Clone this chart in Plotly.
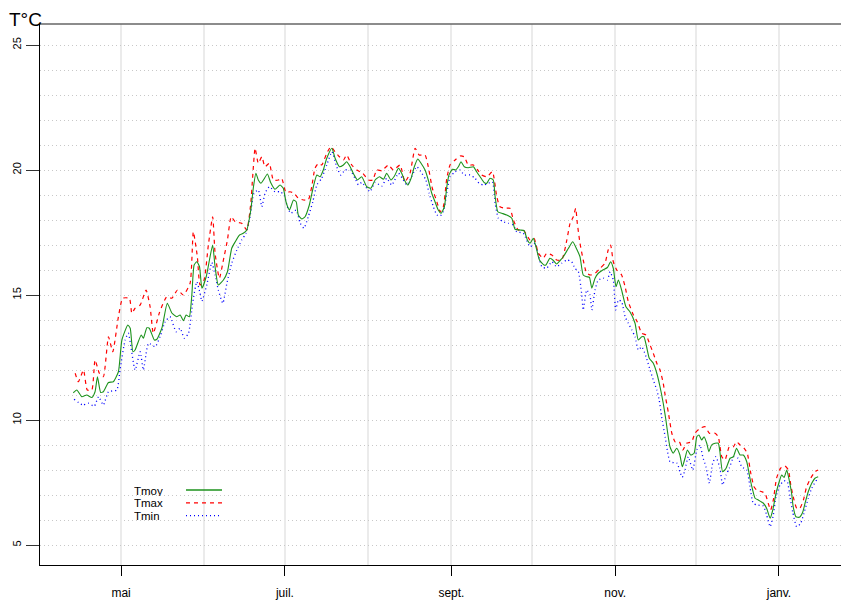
import pandas as pd
import plotly.graph_objects as go

# ---------------- data (days counted from 1 May) ----------------
START = pd.Timestamp("2022-05-01")

TMOY_DAYS = [
    -17.8, -16.5, -14.6, -12.8, -10.9, -9.7, -8.8, -7.6, -6.6, -4.7,
    -2.9, -1.0, 0.3, 2.5, 3.4, 4.4, 5.2, 7.5, 8.3, 9.6,
    10.5, 12.4, 13.3, 15.2, 17.2, 18.9, 20.7, 22.0, 23.2, 24.2,
    25.4, 26.3, 27.2, 28.2, 29.2, 30.1, 31.7, 32.9, 34.1, 35.0,
    36.2, 38.1, 39.6, 41.2, 42.5, 44.1, 45.5, 46.8, 48.3, 49.3,
    50.2, 51.1, 52.1, 53.0, 54.5, 55.7, 57.3, 59.2, 60.4, 61.4,
    62.7, 64.2, 65.2, 66.0, 67.3, 68.5, 70.1, 71.6, 72.9, 74.1,
    75.3, 76.6, 78.5, 79.7, 81.3, 82.8, 84.0, 85.3, 86.8, 88.0,
    89.6, 91.5, 93.0, 94.6, 96.2, 97.7, 98.9, 100.5, 101.8, 103.3,
    104.5, 105.5, 106.8, 108.0, 109.2, 110.5, 111.7, 113.2, 114.4, 115.7,
    116.9, 118.1, 119.2, 120.4, 121.3, 122.1, 123.4, 124.6, 125.6, 126.6,
    127.8, 129.3, 131.2, 132.4, 133.7, 135.3, 136.2, 137.4, 138.6, 139.3,
    140.3, 141.8, 143.6, 145.5, 146.7, 148.6, 150.1, 151.3, 152.3, 153.5,
    154.5, 155.8, 157.5, 158.2, 159.7, 161.0, 162.2, 163.5, 164.7, 166.6,
    168.2, 169.7, 170.9, 172.1, 173.4, 174.4, 175.3, 176.5, 177.7, 179.4,
    181.1, 182.3, 183.3, 184.3, 185.2, 186.4, 188.0, 189.5, 191.4, 192.6,
    193.9, 194.7, 195.7, 196.7, 198.2, 199.5, 200.7, 201.9, 202.9, 203.4,
    204.4, 205.6, 206.9, 208.1, 209.0, 210.0, 210.9, 212.1, 213.4, 214.4,
    215.2, 216.2, 217.1, 218.1, 218.9, 219.9, 221.2, 222.4, 223.0, 224.0,
    225.3, 226.8, 228.0, 229.2, 230.5, 231.7, 233.0, 234.2, 235.2, 236.1,
    237.3, 239.2, 240.4, 241.7, 242.7, 243.9, 245.1, 246.0, 246.9, 247.9,
    248.8, 249.7, 250.3, 251.3, 252.6, 253.8, 254.7, 255.9, 257.2, 258.4,
    259.6,
]
TMOY = [
    11.09, 11.2, 10.93, 11.0, 10.9, 11.13, 11.73, 11.1, 11.13, 11.5,
    11.53, 11.93, 13.2, 13.8, 13.67, 12.73, 12.8, 13.4, 13.27, 13.69,
    13.67, 13.2, 13.23, 13.68, 14.67, 14.28, 14.13, 14.2, 13.97, 14.2,
    14.13, 14.93, 16.2, 16.33, 16.13, 15.27, 15.73, 16.4, 17.0, 16.13,
    15.4, 15.6, 15.93, 16.87, 17.13, 17.4, 17.47, 17.6, 18.4, 19.33,
    19.87, 19.6, 19.47, 19.6, 19.84, 19.5, 19.23, 19.4, 19.27, 18.73,
    18.4, 18.8, 18.73, 18.2, 18.04, 18.13, 18.6, 19.33, 19.8, 19.73,
    20.0, 20.47, 20.87, 20.47, 20.13, 20.2, 20.33, 20.13, 19.8, 19.6,
    19.73, 19.33, 19.27, 19.6, 19.73, 19.63, 19.87, 19.6, 19.76, 20.07,
    19.87, 19.6, 19.4, 19.67, 20.13, 20.44, 20.27, 20.0, 19.6, 19.07,
    18.73, 18.4, 18.27, 18.53, 19.33, 19.8, 20.03, 20.0, 20.13, 20.33,
    20.13, 20.09, 20.13, 19.93, 19.73, 19.49, 19.47, 19.67, 19.6, 18.93,
    18.33, 18.27, 18.2, 18.07, 17.63, 17.6, 17.57, 17.2, 17.07, 17.27,
    16.93, 16.4, 16.2, 16.2, 16.47, 16.38, 16.24, 16.38, 16.53, 16.87,
    17.13, 16.83, 16.53, 15.8, 15.73, 15.71, 15.27, 15.67, 15.87, 16.0,
    16.1, 16.33, 16.07, 15.33, 15.6, 15.2, 14.53, 14.33, 13.87, 13.2,
    13.33, 13.33, 12.93, 12.47, 12.27, 11.87, 11.33, 10.67, 10.0, 9.6,
    8.93, 8.67, 8.87, 8.6, 8.13, 8.47, 8.8, 8.6, 8.67, 9.33,
    9.4, 9.2, 9.33, 9.07, 8.73, 9.0, 9.07, 9.07, 8.73, 7.93,
    8.07, 8.47, 8.53, 8.87, 8.6, 8.6, 8.33, 7.67, 7.2, 6.87,
    6.8, 6.67, 6.47, 6.07, 6.4, 7.07, 7.53, 7.8, 7.7, 8.0,
    7.6, 7.07, 6.53, 6.13, 6.11, 6.3, 6.67, 7.13, 7.47, 7.67,
    7.73,
]

TMAX_DAYS = [
    -17.1, -15.9, -14.0, -12.6, -10.9, -9.7, -8.1, -6.6, -4.7, -3.1,
    -1.0, 0.6, 3.1, 4.0, 5.2, 7.1, 9.3, 10.8, 12.0, 14.3,
    17.0, 18.9, 21.0, 23.2, 25.7, 26.9, 28.4, 29.4, 30.9, 32.5,
    34.1, 35.0, 36.6, 38.1, 39.6, 41.0, 42.5, 44.9, 46.8, 48.3,
    49.0, 49.9, 51.1, 52.4, 53.6, 55.2, 56.7, 58.6, 59.8, 61.4,
    62.9, 64.4, 66.0, 67.9, 69.7, 71.0, 72.2, 73.5, 74.7, 76.6,
    78.1, 79.7, 81.3, 82.8, 84.0, 85.9, 87.8, 90.0, 92.1, 93.7,
    95.2, 97.1, 99.5, 101.4, 103.9, 105.7, 107.6, 109.5, 111.0, 113.2,
    114.4, 115.9, 117.6, 118.8, 120.0, 121.3, 122.5, 124.4, 126.2, 127.8,
    129.3, 131.2, 132.8, 134.3, 136.2, 138.3, 139.9, 141.1, 143.0, 144.8,
    146.1, 147.9, 149.8, 152.3, 153.8, 155.4, 157.2, 158.5, 160.4, 162.2,
    164.1, 166.0, 167.2, 168.4, 169.3, 169.9, 170.9, 172.1, 173.4, 174.9,
    176.5, 178.4, 180.2, 181.4, 182.3, 183.3, 184.6, 186.4, 187.7, 188.9,
    190.8, 192.2, 193.9, 195.5, 197.0, 198.2, 199.5, 200.7, 201.9, 202.6,
    203.8, 205.1, 206.3, 207.9, 209.2, 210.6, 212.5, 213.7, 215.6, 217.5,
    219.1, 221.2, 222.4, 223.7, 224.9, 226.5, 228.0, 229.2, 230.5, 232.0,
    233.2, 234.5, 235.7, 236.7, 238.6, 239.8, 241.0, 241.9, 242.9, 244.1,
    245.6, 247.2, 248.5, 249.4, 250.3, 251.6, 252.8, 254.1, 255.3, 256.8,
    258.4, 259.6,
]
TMAX = [
    11.87, 11.53, 12.0, 11.2, 11.2, 12.4, 11.87, 11.73, 13.33, 12.73,
    14.13, 14.87, 14.87, 14.27, 14.47, 14.6, 15.2, 14.53, 13.47, 14.3,
    14.93, 14.87, 15.2, 15.0, 15.47, 17.53, 16.53, 15.4, 15.6, 17.0,
    18.13, 16.67, 15.67, 16.4, 17.2, 18.13, 17.93, 17.87, 17.6, 18.67,
    19.73, 20.87, 20.27, 20.53, 20.13, 20.27, 19.6, 19.6, 19.67, 19.1,
    19.13, 19.07, 18.87, 18.8, 18.8, 19.33, 20.07, 20.27, 20.2, 20.67,
    20.93, 20.73, 20.53, 20.4, 20.6, 20.2, 20.0, 19.87, 19.6, 19.6,
    20.0, 19.97, 20.2, 20.0, 20.2, 19.53, 19.87, 20.87, 20.6, 20.6,
    20.13, 19.27, 18.73, 18.33, 18.53, 19.67, 20.2, 20.4, 20.56, 20.53,
    20.2, 20.2, 20.0, 19.8, 19.73, 19.93, 18.93, 18.53, 18.47, 18.47,
    18.0, 17.6, 17.6, 17.2, 17.27, 16.67, 16.47, 16.67, 16.6, 16.4,
    16.4, 17.2, 17.87, 18.13, 18.47, 17.87, 17.07, 16.4, 15.87, 15.8,
    15.87, 16.07, 16.27, 16.8, 17.0, 16.33, 16.0, 15.8, 15.33, 14.73,
    14.2, 13.93, 13.47, 13.4, 13.0, 12.67, 12.27, 12.0, 11.47, 11.0,
    10.3, 9.47, 9.13, 9.13, 8.8, 9.07, 9.13, 9.47, 9.67, 9.73,
    9.47, 9.47, 9.33, 8.53, 8.4, 8.93, 8.93, 9.13, 9.0, 8.87,
    8.67, 7.87, 7.33, 7.2, 7.13, 7.07, 6.67, 6.4, 6.8, 7.67,
    8.07, 8.16, 8.0, 7.4, 6.93, 6.47, 6.47, 6.8, 7.33, 7.67,
    7.93, 8.0,
]

TMIN_DAYS = [
    -17.5, -14.3, -12.2, -10.0, -8.4, -6.6, -4.7, -1.6, -0.4, 1.5,
    2.7, 5.2, 7.1, 8.3, 10.2, 12.7, 14.5, 16.4, 18.2, 20.5,
    22.0, 23.5, 25.1, 26.7, 28.2, 29.4, 30.1, 31.9, 33.8, 35.0,
    36.2, 37.9, 39.4, 41.2, 43.1, 44.9, 46.5, 48.0, 49.5, 51.1,
    52.4, 53.6, 55.2, 57.3, 59.2, 60.7, 61.9, 63.2, 65.2, 66.7,
    68.1, 69.7, 71.4, 72.9, 74.7, 76.6, 78.5, 80.3, 81.8, 83.4,
    85.3, 87.1, 88.4, 89.6, 91.5, 92.7, 94.6, 97.1, 98.9, 100.8,
    103.3, 105.1, 106.4, 108.2, 110.1, 112.0, 113.5, 114.7, 116.3, 117.6,
    118.8, 120.0, 121.3, 122.5, 124.4, 126.2, 127.8, 130.0, 131.8, 133.3,
    134.9, 136.8, 138.3, 139.3, 140.5, 142.4, 144.2, 146.1, 147.3, 149.8,
    152.3, 154.2, 155.4, 156.7, 158.5, 160.4, 162.2, 164.1, 166.0, 167.8,
    169.0, 170.3, 171.5, 172.1, 173.4, 174.6, 175.3, 176.5, 177.7, 179.6,
    181.1, 182.1, 183.3, 184.2, 185.2, 186.4, 187.7, 188.9, 190.2, 191.4,
    192.6, 193.9, 195.5, 197.0, 198.2, 199.5, 200.4, 201.3, 202.6, 203.4,
    204.4, 205.9, 207.1, 208.1, 209.0, 210.0, 211.2, 212.9, 214.4, 215.6,
    216.6, 217.8, 219.1, 220.3, 221.5, 223.0, 224.0, 225.3, 226.5, 228.2,
    229.8, 231.1, 233.0, 234.2, 235.4, 236.9, 239.2, 240.4, 241.7, 242.9,
    243.9, 245.4, 246.9, 248.1, 249.1, 250.1, 251.6, 253.1, 254.3, 255.9,
    257.2, 259.0,
]
TMIN = [
    10.83, 10.6, 10.67, 10.55, 10.93, 10.6, 11.13, 11.2, 12.0, 13.2,
    13.47, 12.0, 12.73, 12.0, 13.07, 12.93, 13.33, 13.93, 14.13, 13.53,
    13.67, 13.27, 13.47, 14.73, 15.53, 15.07, 14.75, 15.4, 16.3, 15.8,
    15.2, 14.67, 15.47, 16.27, 16.8, 17.2, 17.47, 18.13, 19.07, 19.2,
    18.53, 19.07, 19.33, 19.13, 19.13, 19.0, 18.53, 18.27, 18.4, 17.87,
    17.67, 18.13, 18.73, 19.4, 19.67, 20.2, 20.73, 20.13, 19.8, 20.0,
    20.0, 19.67, 19.4, 19.5, 19.27, 19.13, 19.5, 19.36, 19.67, 19.4,
    19.87, 19.6, 19.4, 19.73, 20.13, 19.87, 19.6, 19.07, 18.53, 18.2,
    18.16, 18.33, 19.07, 19.73, 19.93, 20.0, 19.8, 19.8, 19.67, 19.47,
    19.4, 19.47, 19.53, 18.67, 18.07, 17.93, 17.87, 17.8, 17.53, 17.47,
    16.93, 17.07, 16.6, 16.13, 16.07, 16.33, 16.13, 16.27, 16.4, 16.33,
    16.07, 15.93, 15.07, 14.4, 15.2, 15.0, 14.4, 15.2, 15.6, 15.67,
    15.6, 15.93, 15.6, 14.4, 14.8, 14.73, 14.13, 13.87, 13.6, 13.33,
    12.8, 12.93, 12.53, 12.0, 11.6, 11.2, 10.8, 10.13, 9.33, 8.8,
    8.33, 8.29, 8.27, 7.93, 7.71, 8.0, 8.53, 8.0, 8.8, 9.0,
    8.53, 8.13, 7.47, 8.27, 8.53, 8.07, 7.4, 7.8, 8.07, 8.53,
    8.47, 8.13, 8.0, 7.33, 6.67, 6.6, 6.56, 6.2, 5.73, 6.2,
    6.93, 7.4, 7.57, 7.53, 6.93, 6.33, 5.73, 5.87, 6.27, 6.87,
    7.27, 7.6,
]

SERIES_NAMES = ["Tmoy", "Tmax", "Tmin"]
MONTH_TICKS = ["2022-05-01", "2022-07-01", "2022-09-01", "2022-11-01", "2023-01-01"]
MONTH_LABELS = ["mai", "juil.", "sept.", "nov.", "janv."]
OTHER_MONTHS = ["2022-06-01", "2022-08-01", "2022-10-01", "2022-12-01"]
Y_TICKS = [5, 10, 15, 20, 25]


def to_dates(days):
    return START + pd.to_timedelta(days, unit="D")


# ---------------- styles ----------------
FONT = "Liberation Sans, Arial, Helvetica, sans-serif"
GREEN = "#1c921c"
RED = "#FF0000"
BLUE = "#0000FF"
DASH_MAX = "4px,4px"
DASH_MIN = "1px,3px"
VGRID = "#ebebeb"
HGRID = "#c8c8c8"

# geometry in page pixels (body margin removed below)
W, H = 841, 600
L, T, B, R = 40, 24, 35, 0
PW, PH = W - L - R, H - T - B
PLOT_BOTTOM = H - B


def px(xpage):
    return (xpage - L) / PW


def py(ypage):
    return (PLOT_BOTTOM - ypage) / PH


fig = go.Figure()
fig.add_trace(go.Scatter(x=to_dates(TMIN_DAYS), y=TMIN, mode="lines", name=SERIES_NAMES[2],
                         line=dict(color=BLUE, width=1.3, dash=DASH_MIN, shape="spline", smoothing=0.5),
                         showlegend=False))
fig.add_trace(go.Scatter(x=to_dates(TMAX_DAYS), y=TMAX, mode="lines", name=SERIES_NAMES[1],
                         line=dict(color=RED, width=1.2, dash=DASH_MAX, shape="spline", smoothing=0.5),
                         showlegend=False))
fig.add_trace(go.Scatter(x=to_dates(TMOY_DAYS), y=TMOY, mode="lines", name=SERIES_NAMES[0],
                         line=dict(color=GREEN, width=1.1, shape="spline", smoothing=0.5),
                         showlegend=False))

x_range = [START - pd.Timedelta(days=30.2), START + pd.Timedelta(days=268.1)]

fig.update_layout(
    width=W, height=H,
    margin=dict(l=L, r=R, t=T, b=B, pad=0),
    paper_bgcolor="white", plot_bgcolor="white",
    font=dict(family=FONT, color="black"),
    showlegend=False,
    xaxis=dict(
        type="date", range=x_range, automargin=False,
        tickmode="array", tickvals=MONTH_TICKS, ticktext=MONTH_LABELS,
        ticks="outside", ticklen=10, tickwidth=1.2, tickcolor="black",
        tickfont=dict(size=12, color="black"), ticklabelstandoff=6,
        showline=True, linecolor="black", linewidth=1.3,
        showgrid=True, gridcolor=VGRID, gridwidth=1.5,
        minor=dict(tickmode="array", tickvals=OTHER_MONTHS, showgrid=True,
                   gridcolor=VGRID, gridwidth=1.5, ticks=""),
        zeroline=False,
    ),
    yaxis=dict(
        range=[4.2, 25.84], automargin=False,
        tickmode="array", tickvals=Y_TICKS, tickangle=-90,
        ticks="outside", ticklen=13, tickwidth=1.2, tickcolor="#333",
        tickfont=dict(size=11, color="black"),
        showline=True, linecolor="black", linewidth=1.3,
        showgrid=True, gridcolor=HGRID, gridwidth=1, griddash="1px,3px",
        minor=dict(dtick=1, tick0=0, showgrid=True, gridcolor=HGRID,
                   gridwidth=1, griddash="1px,3px", ticks=""),
        zeroline=False,
    ),
)

shapes = [
    # top frame line
    dict(type="line", xref="paper", yref="paper", x0=0, x1=1, y0=1, y1=1,
         line=dict(color="#666666", width=1.5), layer="above"),
    # legend background
    dict(type="rect", xref="paper", yref="paper", x0=px(105), x1=px(229), y0=py(540), y1=py(477),
         fillcolor="white", line=dict(width=0), layer="between"),
]
legend_rows = [(490.0, GREEN, "solid"), (502.8, RED, DASH_MAX), (515.6, BLUE, DASH_MIN)]
annotations = []
for name, (ypix, col, dash) in zip(SERIES_NAMES, legend_rows):
    shapes.append(dict(type="line", xref="paper", yref="paper", x0=px(186), x1=px(222),
                       y0=py(ypix), y1=py(ypix), line=dict(color=col, width=1.3, dash=dash)))
    annotations.append(dict(text=name, xref="paper", yref="paper", x=px(132), y=py(ypix),
                            xanchor="left", yanchor="middle", showarrow=False, height=11,
                            valign="middle",
                            font=dict(size=11.5, color="black", family=FONT)))
annotations.append(dict(text="T°C", xref="paper", yref="paper", x=px(7), y=py(19),
                        xanchor="left", yanchor="middle", showarrow=False,
                        font=dict(size=19, color="black", family=FONT)))
fig.update_layout(shapes=shapes, annotations=annotations)

fig.write_html(
    "out.html",
    config={"displayModeBar": False},
    post_script="document.body.style.margin='0';document.body.style.overflow='hidden';",
)
